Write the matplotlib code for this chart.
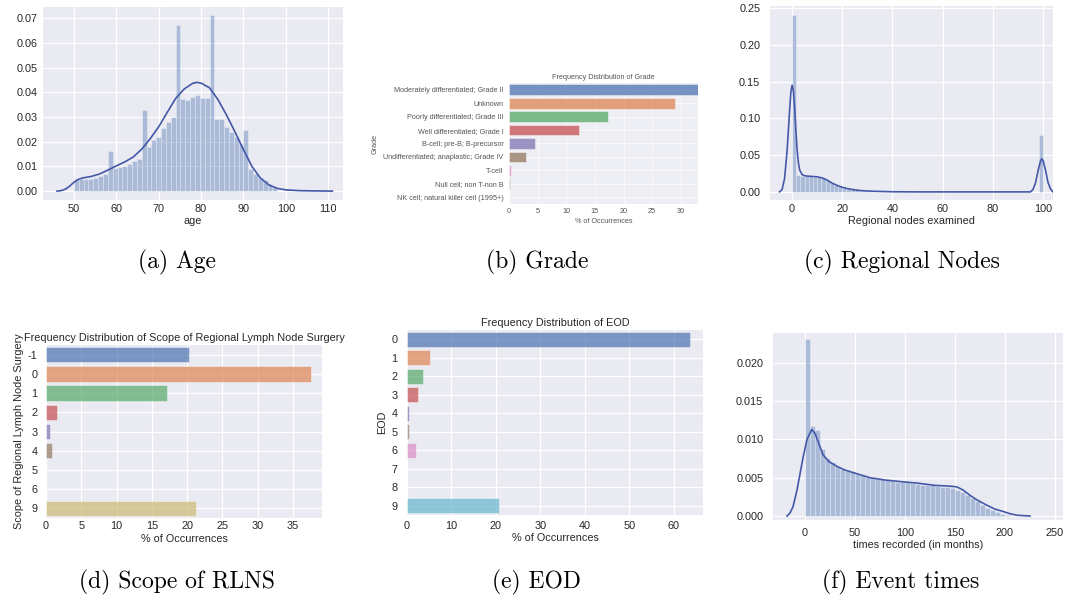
import numpy as np
import matplotlib
matplotlib.use("Agg")
import matplotlib.pyplot as plt

# ---------------------------------------------------------------- data
# (a) age: density histogram (bins of 8/7 years from 50) and its KDE
age_hist = [0.0051, 0.0050, 0.0048, 0.0050, 0.0053, 0.0060, 0.0068, 0.0162,
            0.0094, 0.0099, 0.0103, 0.0110, 0.0120, 0.0130, 0.0328, 0.0180,
            0.0207, 0.0220, 0.0255, 0.0280, 0.0300, 0.0672, 0.0372, 0.0370,
            0.0382, 0.0387, 0.0378, 0.0375, 0.0712, 0.0290, 0.0290, 0.0260,
            0.0240, 0.0220, 0.0190, 0.0247, 0.0090, 0.0070, 0.0055, 0.0045,
            0.0030, 0.0015]
age_kde_x = [46, 47, 48, 49, 50, 51, 52, 54, 56, 58, 60, 62, 64, 66, 68, 70,
             72, 74, 76, 78, 79, 80, 82, 84, 86, 88, 90, 92, 94, 96, 98, 100,
             103, 106, 111]
age_kde_y = [0.0000, 0.0002, 0.0008, 0.0020, 0.0036, 0.0047, 0.0053, 0.0059,
             0.0069, 0.0085, 0.0102, 0.0118, 0.0138, 0.0170, 0.0212, 0.0260,
             0.0318, 0.0375, 0.0413, 0.0436, 0.0440, 0.0437, 0.0418, 0.0370,
             0.0308, 0.0240, 0.0168, 0.0100, 0.0053, 0.0025, 0.0011, 0.0005,
             0.0002, 0.0001, 0.0000]

# (b) grade
grade_labels = ["Moderately differentiated; Grade II", "Unknown",
                "Poorly differentiated; Grade III", "Well differentiated; Grade I",
                "B-cell; pre-B; B-precursor",
                "Undifferentiated; anaplastic; Grade IV", "T-cell",
                "Null cell; non T-non B", "NK cell; natural killer cell (1995+)"]
grade_pct = [33.0, 29.0, 17.3, 12.2, 4.5, 2.9, 0.3, 0.1, 0.05]

# (c) regional nodes examined: density histogram (60 bins over 0-100) and KDE
nodes_hist = ([0.2400, 0.0225, 0.0220, 0.0215, 0.0212, 0.0208, 0.0200, 0.0185,
               0.0160, 0.0125, 0.0098, 0.0075, 0.0058, 0.0045, 0.0034, 0.0025,
               0.0018, 0.0012, 0.0008, 0.0005, 0.0003]
              + [0.0] * 38 + [0.0770])
nodes_kde_x = [-5, -4, -3, -2, -1, -0.5, 0, 0.5, 1, 1.5, 2, 2.5, 3, 4, 5, 6, 8,
               10, 12, 14, 16, 18, 20, 22, 25, 28, 33, 40, 50, 95, 96, 97, 98,
               99, 99.5, 100, 101, 102, 103, 104]
nodes_kde_y = [0.000, 0.003, 0.018, 0.055, 0.110, 0.135, 0.145, 0.138, 0.115,
               0.085, 0.058, 0.040, 0.030, 0.0235, 0.022, 0.0215, 0.021, 0.0205,
               0.019, 0.016, 0.0118, 0.0088, 0.0063, 0.0045, 0.0027, 0.0016,
               0.0008, 0.0002, 0.000, 0.000, 0.003, 0.012, 0.028, 0.042, 0.045,
               0.043, 0.030, 0.013, 0.004, 0.000]

# (d) scope of regional lymph node surgery
rlns_labels = ["-1", "0", "1", "2", "3", "4", "5", "6", "9"]
rlns_pct = [20.2, 37.6, 17.2, 1.6, 0.6, 0.9, 0.0, 0.0, 21.3]

# (e) EOD
eod_labels = ["0", "1", "2", "3", "4", "5", "6", "7", "8", "9"]
eod_pct = [63.7, 5.1, 3.6, 2.5, 0.5, 0.5, 2.0, 0.05, 0.05, 20.6]

# (f) event times: density histogram (5-month bins from 0) and KDE
time_hist = [0.0231, 0.0118, 0.0112, 0.0088, 0.0076, 0.0070, 0.0065, 0.0062,
             0.0059, 0.0057, 0.0055, 0.0053, 0.0051, 0.0050, 0.0048, 0.0048,
             0.0047, 0.0046, 0.0045, 0.0045, 0.0044, 0.0043, 0.0042, 0.0041,
             0.0040, 0.0040, 0.0039, 0.0038, 0.0038, 0.0037, 0.0034, 0.0031,
             0.0028, 0.0024, 0.0019, 0.0015, 0.0011, 0.0008, 0.0005, 0.0003,
             0.0001]
time_kde_x = [-18, -15, -12, -8, -4, -1.7, 2, 6.7, 10, 14, 18, 24, 31.7, 40, 50,
              65, 80, 95, 112, 130, 145, 152, 158, 165, 172, 182, 190, 198, 205,
              212, 225]
time_kde_y = [0.0000, 0.0004, 0.0012, 0.0034, 0.0062, 0.0078, 0.0100, 0.0113,
              0.0108, 0.0094, 0.0080, 0.0071, 0.0065, 0.0060, 0.0056, 0.0050,
              0.0047, 0.0045, 0.0043, 0.0040, 0.0039, 0.0038, 0.0034, 0.0027,
              0.0021, 0.0014, 0.0009, 0.0006, 0.0003, 0.0001, 0.0000]

captions = ["(a) Age", "(b) Grade", "(c) Regional Nodes",
            "(d) Scope of RLNS", "(e) EOD", "(f) Event times"]

# ---------------------------------------------------------------- style
plt.rcParams["font.family"] = ["Liberation Sans", "DejaVu Sans"]
DEEP = ["#4C72B0", "#DD8452", "#55A868", "#C44E52", "#8172B3",
        "#937860", "#DA8BC3", "#8C8C8C", "#CCB974", "#64B5CD"]
BG = "#EAEAF2"
TXT = "#262626"
W, H = 1065, 602

fig = plt.figure(figsize=(W / 100, H / 100), dpi=100)
fig.patch.set_facecolor("white")


def px_axes(left, top, right, bottom):
    return fig.add_axes([left / W, 1 - bottom / H, (right - left) / W,
                         (bottom - top) / H])


def dark_style(ax, size, xpad, ypad, color=TXT, bg=BG, gx=True, gy=True, glw=0.9):
    ax.set_facecolor(bg)
    for s in ax.spines.values():
        s.set_visible(False)
    ax.tick_params(axis="both", length=0, labelsize=size, colors=color)
    ax.tick_params(axis="x", pad=xpad)
    ax.tick_params(axis="y", pad=ypad)
    ax.set_axisbelow(True)
    ax.xaxis.grid(gx, color="white", lw=glw)
    ax.yaxis.grid(gy, color="white", lw=glw)


def hist_kde(ax, start, width, heights, kx, ky):
    n = len(heights)
    lefts = start + width * np.arange(n)
    ax.bar(lefts, heights, width=width, align="edge", color=DEEP[0], alpha=0.4,
           edgecolor="white", linewidth=0.5)
    ax.plot(kx, ky, color="#4458A8", lw=1.2)


FS = 7.8

# (a) age
ax = px_axes(43, 7, 343, 200)
dark_style(ax, FS, 3, 4)
hist_kde(ax, 50, 8 / 7, age_hist, age_kde_x, age_kde_y)
ax.set_xlim(42.7, 113.5)
ax.set_ylim(-0.0036, 0.0745)
ax.set_xticks(np.arange(50, 111, 10))
ax.set_yticks(np.arange(0, 0.071, 0.01))
ax.yaxis.set_major_formatter(matplotlib.ticker.FormatStrFormatter("%.2f"))
ax.set_xlabel("age", fontsize=FS, color=TXT, labelpad=1)

# (c) regional nodes
ax = px_axes(770, 6, 1053, 200)
dark_style(ax, FS, 3, 7)
hist_kde(ax, 0, 100 / 60, nodes_hist, nodes_kde_x, nodes_kde_y)
ax.set_xlim(-8.8, 104)
ax.set_ylim(-0.011, 0.2527)
ax.set_xticks(np.arange(0, 101, 20))
ax.set_yticks(np.arange(0, 0.251, 0.05))
ax.yaxis.set_major_formatter(matplotlib.ticker.FormatStrFormatter("%.2f"))
ax.set_xlabel("Regional nodes examined", fontsize=FS, color=TXT, labelpad=1)

# (f) event times
ax = px_axes(773, 333, 1063, 520)
dark_style(ax, FS, 6, 7)
hist_kde(ax, 0, 5, time_hist, time_kde_x, time_kde_y)
ax.set_xlim(-32, 258)
ax.set_ylim(-0.00052, 0.0239)
ax.set_xticks(np.arange(0, 251, 50))
ax.set_yticks(np.arange(0, 0.0201, 0.005))
ax.yaxis.set_major_formatter(matplotlib.ticker.FormatStrFormatter("%.3f"))
ax.set_xlabel("times recorded (in months)", fontsize=FS, color=TXT, labelpad=1)


def hbar_panel(ax, labels, values, title, ylabel, size, color, alpha):
    pos = np.arange(len(labels))
    ax.barh(pos, values, height=0.8, color=DEEP[:len(labels)], alpha=alpha,
            edgecolor="white", linewidth=0.4)
    ax.set_yticks(pos)
    ax.set_yticklabels(labels)
    ax.set_ylim(len(labels) - 0.5, -0.5)
    ax.set_title(title, fontsize=size, color=color, pad=3)
    ax.set_xlabel("% of Occurrences", fontsize=size, color=color, labelpad=2)
    ax.set_ylabel(ylabel, fontsize=size, color=color, labelpad=3)


# (b) grade
GFS = 5.2
ax = px_axes(509, 83, 698, 204)
dark_style(ax, GFS, 3, 4, color="#555555", bg="#EEEEF5", gy=False, glw=0.5)
hbar_panel(ax, grade_labels, grade_pct, "Frequency Distribution of Grade",
           "Grade", GFS, "#555555", 0.75)
ax.set_xlim(0, 33.0)
ax.set_xticks(np.arange(0, 31, 5))

# (d) scope of RLNS
ax = px_axes(46, 345, 322, 518)
dark_style(ax, FS, 2, 6, gy=False)
hbar_panel(ax, rlns_labels, rlns_pct,
           "Frequency Distribution of Scope of Regional Lymph Node Surgery",
           "Scope of Regional Lymph Node Surgery", FS, TXT, 0.7)
ax.set_xlim(0, 39.1)
ax.set_xticks(np.arange(0, 36, 5))

# (e) EOD
ax = px_axes(407, 330, 703, 515)
dark_style(ax, FS, 4, 7, gy=False)
hbar_panel(ax, eod_labels, eod_pct, "Frequency Distribution of EOD", "EOD",
           FS, TXT, 0.7)
ax.set_xlim(0, 66.6)
ax.set_xticks(np.arange(0, 61, 10))

# sub-figure captions
cap_pos = [(177, 268), (537, 268), (902, 268), (177, 588), (536, 588), (901, 588)]
for text, (cx, cy) in zip(captions, cap_pos):
    fig.text(cx / W, 1 - cy / H, text, family="cmr10", fontsize=17,
             ha="center", va="baseline", color="black")

fig.savefig("out.png", dpi=100, facecolor="white")
